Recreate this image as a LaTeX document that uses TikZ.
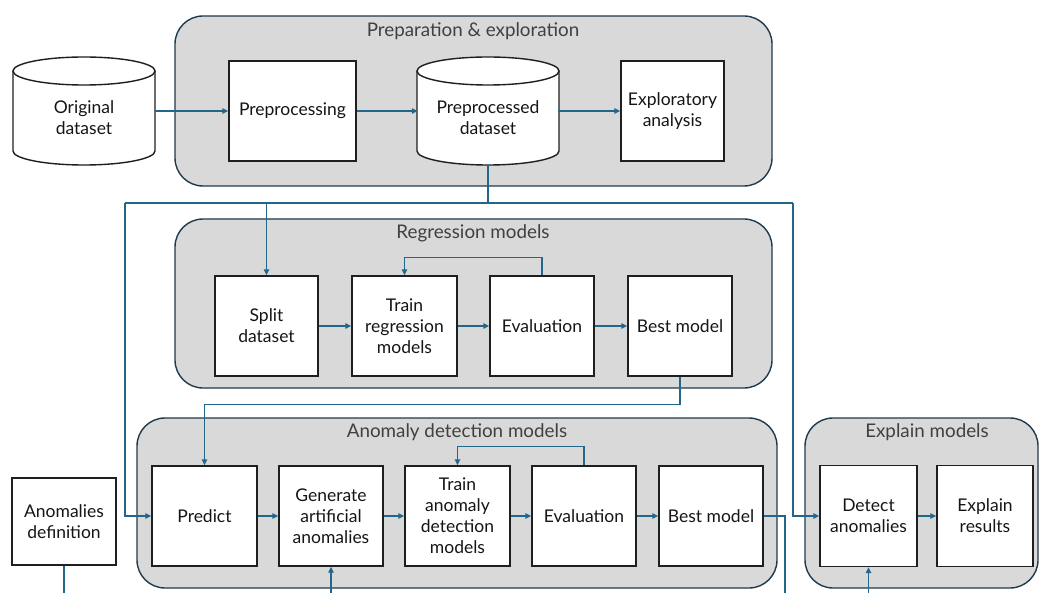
\documentclass[tikz,border=0pt]{standalone}
\usepackage{fontspec}
\setmainfont{Lato}
\usetikzlibrary{arrows.meta}
\definecolor{lc}{HTML}{22678A}
\definecolor{grpb}{HTML}{1F3A4D}
\definecolor{grpf}{HTML}{D9D9D9}
\definecolor{ttl}{HTML}{404040}
\definecolor{tx}{HTML}{151515}
\newcommand\drawcyl[2]{%
  \fill[white] ({#1-71},{#2-40}) -- ({#1-71},{#2+40}) arc[start angle=180,end angle=360,x radius=71pt,y radius=14pt] -- ({#1+71},{#2-40}) arc[start angle=0,end angle=180,x radius=71pt,y radius=14pt] -- cycle;
  \draw[cylline] ({#1-71},{#2-40}) -- ({#1-71},{#2+40}) arc[start angle=180,end angle=360,x radius=71pt,y radius=14pt] -- ({#1+71},{#2-40});
  \draw[cylline] (#1,{#2-40}) ellipse[x radius=71pt,y radius=14pt];
}
\begin{document}
\begin{tikzpicture}[x=1pt,y=-1pt,
  grp/.style={draw=grpb, fill=grpf, line width=1.4pt, rounded corners=28pt, inner sep=0pt},
  box/.style={draw=black!88, fill=white, line width=1.4pt, align=center, inner sep=0pt, text=tx, font=\fontsize{17.5}{21}\selectfont},
  txt/.style={align=center, inner sep=0pt, text=tx, font=\fontsize{17.5}{21}\selectfont},
  ghost/.style={inner sep=0pt},
  cylline/.style={draw=black!88, line width=1.4pt},
  ttlstyle/.style={text=ttl, inner sep=0pt, font=\fontsize{18.8}{22}\selectfont},
  conn/.style={draw=lc, line width=1.4pt},
  arr/.style={conn, -{Triangle[length=6pt,width=5.5pt]}}]
\useasboundingbox (0,0) rectangle (1040,593);

% groups
\node[grp, minimum width=597pt, minimum height=170pt] (g1) at (473.5,101) {};
\node[ttlstyle] (t1) at (473,31) {Preparation \& exploration};
\node[grp, minimum width=597pt, minimum height=169pt] (g2) at (473.5,303.5) {};
\node[ttlstyle] (t2) at (473,233) {Regression models};
\node[grp, minimum width=640pt, minimum height=170pt] (g3) at (457,503) {};
\node[ttlstyle] (t3) at (457,432) {Anomaly detection models};
\node[grp, minimum width=233pt, minimum height=170pt] (g4) at (921.5,503) {};
\node[ttlstyle] (t4) at (927,432) {Explain models};

% cylinders
\drawcyl{84}{111}
\node[ghost, minimum width=142pt, minimum height=108pt] (orig) at (84,111) {};
\node[txt] (origt) at (84,118) {Original\\dataset};
\drawcyl{488}{111}
\node[ghost, minimum width=140pt, minimum height=108pt] (ppd) at (488,111) {};
\node[txt] (ppdt) at (488,118) {Preprocessed\\dataset};

% boxes
\node[box, minimum width=127pt, minimum height=100pt] (prep) at (292.5,111) {Preprocessing};
\node[box, minimum width=103pt, minimum height=100pt] (expl) at (672.5,111) {Exploratory\\analysis};

\node[box, minimum width=103pt, minimum height=100pt] (split) at (266.5,326) {Split\\dataset};
\node[box, minimum width=105pt, minimum height=100pt] (trainr) at (404.5,326) {Train\\regression\\models};
\node[box, minimum width=104pt, minimum height=100pt] (evalr) at (542,326) {Evaluation};
\node[box, minimum width=104pt, minimum height=100pt] (bestr) at (680,326) {Best model};

\node[box, minimum width=105pt, minimum height=100pt] (predict) at (204.5,516) {Predict};
\node[box, minimum width=104pt, minimum height=100pt] (gen) at (331,516) {Generate\\artificial\\anomalies};
\node[box, minimum width=105pt, minimum height=100pt] (traina) at (457.5,516) {Train\\anomaly\\detection\\models};
\node[box, minimum width=104pt, minimum height=100pt] (evala) at (584,516) {Evaluation};
\node[box, minimum width=104pt, minimum height=100pt] (besta) at (711,516) {Best model};

\node[box, minimum width=104pt, minimum height=87pt] (adef) at (64,521.5) {Anomalies\\definition};

\node[box, minimum width=97pt, minimum height=101pt] (detect) at (868.5,516) {Detect\\anomalies};
\node[box, minimum width=96pt, minimum height=101pt] (explr) at (985,516) {Explain\\results};

% coordinates
\coordinate (jL) at (125,203);
\coordinate (jR) at (793,203);
\coordinate (bot) at (0,593);
\coordinate (bcorner) at (785,516);

% connectors
\draw[arr] (orig.east) -- (prep.west);
\draw[arr] (prep.east) -- (ppd.west);
\draw[arr] (ppd.east) -- (expl.west);
\draw[conn] (ppd.south) -- (ppd.south |- jL);
\draw[conn] (jL) -- (jR);
\draw[arr] (split.north |- jL) -- (split.north);
\draw[arr] (jL) |- (predict.west);
\draw[arr] (jR) |- (detect.west);

\draw[arr] (split.east) -- (trainr.west);
\draw[arr] (trainr.east) -- (evalr.west);
\draw[arr] (evalr.east) -- (bestr.west);
\draw[arr] (evalr.north) -- ++(0,-18) -| (trainr.north);
\draw[arr] (bestr.south) -- ++(0,28) -| (predict.north);

\draw[arr] (predict.east) -- (gen.west);
\draw[arr] (gen.east) -- (traina.west);
\draw[arr] (traina.east) -- (evala.west);
\draw[arr] (evala.east) -- (besta.west);
\draw[arr] (evala.north) -- ++(0,-19) -| (traina.north);
\draw[conn] (besta.east) -- (bcorner) -- (bcorner |- bot);
\draw[arr] (gen.south |- bot) -- (gen.south);
\draw[conn] (adef.south) -- (adef.south |- bot);
\draw[arr] (detect.south |- bot) -- (detect.south);
\draw[arr] (detect.east) -- (explr.west);
\end{tikzpicture}
\end{document}
